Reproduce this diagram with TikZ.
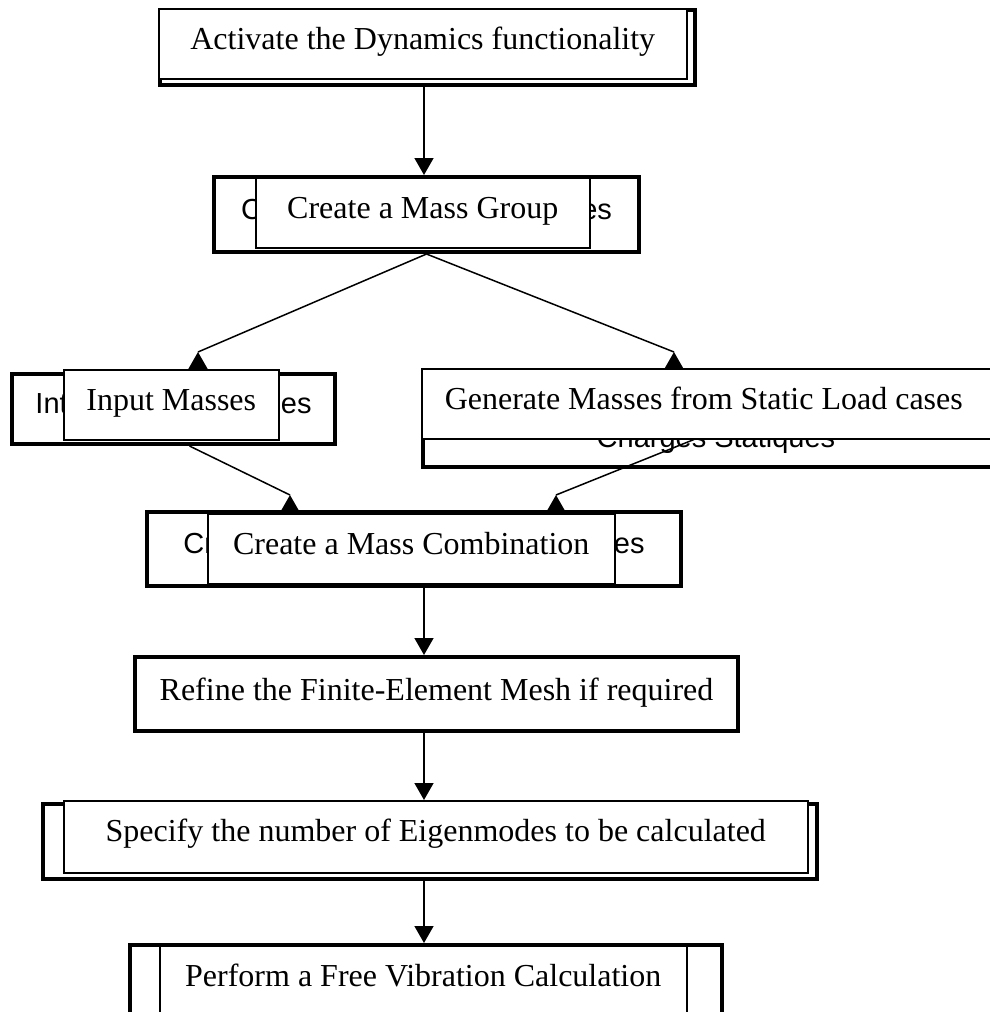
\documentclass[tikz,border=0pt]{standalone}
\usepackage{fontspec}
\setmainfont{Liberation Serif}
\newfontfamily\frfont{Liberation Sans}
\usetikzlibrary{arrows.meta,positioning}

\begin{document}
\begin{tikzpicture}[x=0.5pt,y=-0.5pt,line width=0.75pt,
  >={Triangle[length=8.5pt,width=9.5pt]},
  back box/.style={draw,line width=2pt,fill=white,anchor=north west,inner sep=0pt,
    font=\frfont\fontsize{14.5}{17}\selectfont,text height=10pt,text depth=5.5pt},
  front box/.style={draw,line width=0.75pt,fill=white,anchor=north west,inner xsep=0pt,
    inner ysep=10pt,font=\fontsize{16}{19}\selectfont,text height=10.5pt,text depth=4.5pt}]

  \useasboundingbox (0,0) rectangle (990,1012);
  \clip (0,0) rectangle (990,1012);
  \coordinate (col) at (424,0);

  % boxes behind
  \node[back box,minimum width=267.5pt,minimum height=37.5pt] (actback) at (158,8) {};
  \node[back box,minimum width=212.5pt,minimum height=37.5pt] (massback) at (212,175) {C\hspace*{159.7pt}es};
  \node[back box,minimum width=161.5pt,minimum height=35pt] (inputback) at (10,372) {Int\hspace*{106.6pt}es};
  \node[back box,minimum width=293pt,minimum height=46.5pt,text height=26.5pt,text depth=0pt]
    (genback) at (421,372) {Charges Statiques};
  \node[back box,minimum width=267pt,minimum height=37pt] (combback) at (145,510) {Cr\hspace*{199.9pt}es};
  \node[back box,minimum width=387pt,minimum height=37.5pt] (specback) at (41,802) {};
  \node[back box,minimum width=296pt,minimum height=40pt] (perfback) at (128,943) {};

  % boxes in front
  \node[front box,minimum width=264pt] (act) at (158,8) {Activate the Dynamics functionality};
  \node[front box,minimum width=167pt] (mass) at (255,177) {Create a Mass Group};
  \node[front box,minimum width=107.5pt] (input) at (63,369) {Input Masses};
  \node[front box,inner xsep=11.5pt] (gen) at (421,368)
    {\makebox[266.5pt][l]{Generate Masses from Static Load cases}};
  \node[front box,minimum width=203.5pt] (comb) at (207,513) {Create a Mass Combination};
  \node[front box,line width=2pt,minimum width=301.5pt,inner ysep=11pt] (mesh) at (133,655)
    {Refine the Finite-Element Mesh if required};
  \node[front box,minimum width=372pt,text depth=5.5pt] (spec) at (63,800)
    {Specify the number of Eigenmodes to be calculated};
  \node[front box,minimum width=263.5pt,text depth=7pt] (perf) at (159,945)
    {Perform a Free Vibration Calculation};

  % connectors
  \path[->] (actback.south -| col) edge (massback.north -| col)
    (combback.south -| col) edge (mesh.north -| col)
    (mesh.south -| col) edge (spec.north -| col)
    (specback.south -| col) edge (perfback.north -| col);

  \coordinate (tipin) at (198,352);
  \coordinate (tipgen) at (674,352);
  \coordinate (tipcl) at (290,495);
  \coordinate (tipcr) at (556,495);
  \draw (massback.south) -- (tipin);
  \draw (massback.south) -- (tipgen);
  \draw ([xshift=8pt]inputback.south) -- (tipcl);
  \draw ([xshift=136.5pt]gen.south west) -- (tipcr);
  \foreach \t in {tipin,tipgen,tipcl,tipcr}
    \draw[->] ([yshift=-8.5pt]\t) -- (\t);
\end{tikzpicture}
\end{document}
